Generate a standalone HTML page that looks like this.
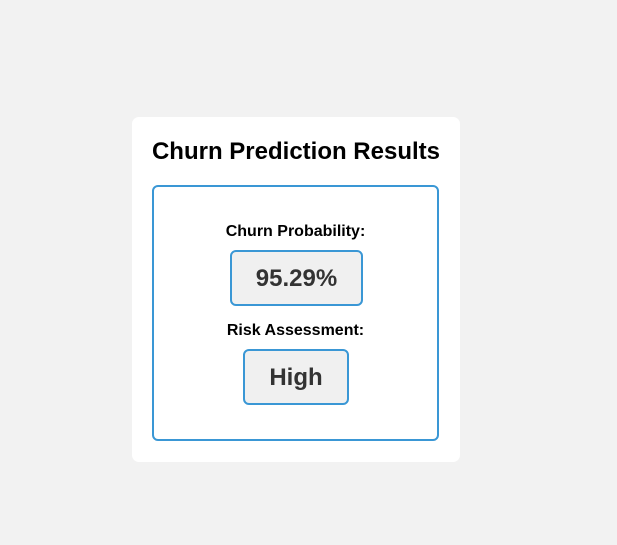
<!DOCTYPE html>
<html><head><meta charset="utf-8"><style>
body{margin:0;width:617px;height:545px;background:#f2f2f2;font-family:"Liberation Sans",Arial,sans-serif;position:relative;overflow:hidden}
.card{position:absolute;left:132px;top:117px;width:328px;height:345px;background:#fff;border-radius:7px}
.title{position:absolute;left:0;width:328px;top:21px;text-align:center;font-size:24px;font-weight:bold;color:#000}
.inner{position:absolute;left:20px;top:68px;width:283px;height:252px;border:2px solid #3a97d5;border-radius:6px}
.lbl{position:absolute;left:0;width:283px;text-align:center;font-size:16px;font-weight:bold;color:#000}
.val{position:absolute;background:#f0f0f0;border:2px solid #3a97d5;border-radius:6px;box-sizing:border-box;text-align:center;font-size:24px;font-weight:bold;color:#333}
</style></head><body>
<div class="card">
  <div class="title">Churn Prediction Results</div>
  <div class="inner">
    <div class="lbl" style="top:36px">Churn Probability:</div>
    <div class="val" style="left:76px;top:63px;width:133px;height:56px;line-height:54px">95.29%</div>
    <div class="lbl" style="top:135px">Risk Assessment:</div>
    <div class="val" style="left:89px;top:162px;width:106px;height:56px;line-height:54px">High</div>
  </div>
</div>
</body></html>
